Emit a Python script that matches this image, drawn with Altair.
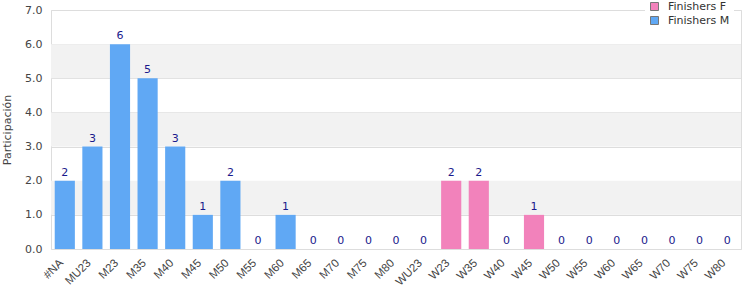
import altair as alt
import pandas as pd

categories = ["#NA", "MU23", "M23", "M35", "M40", "M45", "M50", "M55", "M60", "M65", "M70", "M75", "M80",
              "WU23", "W23", "W35", "W40", "W45", "W50", "W55", "W60", "W65", "W70", "W75", "W80"]
values = [2, 3, 6, 5, 3, 1, 2, 0, 1, 0, 0, 0, 0, 0, 2, 2, 0, 1, 0, 0, 0, 0, 0, 0, 0]
series = ["Finishers M"] * 13 + ["Finishers F"] * 12

y_ticks = [0, 1, 2, 3, 4, 5, 6, 7]
band_lo = [1, 3, 5]
band_hi = [2, 4, 6]

df = pd.DataFrame({"cat": categories, "val": values, "serie": series})
bands = pd.DataFrame({"lo": band_lo, "hi": band_hi})

xaxis = alt.Axis(labelAngle=-45, labelAlign="right", labelBaseline="middle",
                 labelColor="#444444", labelFontSize=11.5, labelFont="Liberation Sans",
                 ticks=False, domain=False, labelPadding=12, labelOffset=-3, labelOverlap=False)
xenc = alt.X("cat:N", sort=categories, title=None,
             scale=alt.Scale(paddingInner=0.27, paddingOuter=0.135), axis=xaxis)
yscale = alt.Scale(domain=[0, 7], nice=False)
yaxis = alt.Axis(format=".1f", values=y_ticks, gridColor="#dddddd",
                 domain=False, ticks=False, labelColor="#444444", labelFontSize=11,
                 labelFont="DejaVu Sans", titleFont="DejaVu Sans", titleFontSize=11,
                 titleFontWeight="normal", titleColor="#444444", labelPadding=9,
                 labelOverlap=False, labelBound=False, labelFlush=False,
                 titlePadding=12)

band_layer = alt.Chart(bands).mark_rect(color="#f2f2f2").encode(
    y=alt.Y("lo:Q", scale=yscale, axis=yaxis, title="Participación"), y2="hi:Q",
    x=alt.value(0), x2=alt.value(690))

bars = alt.Chart(df).mark_bar().encode(
    x=xenc,
    y=alt.Y("val:Q", scale=yscale, title="Participación", axis=yaxis),
    color=alt.Color("serie:N", scale=alt.Scale(domain=["Finishers F", "Finishers M"],
                                               range=["#f282bb", "#60a8f4"]),
                    legend=alt.Legend(title=None, orient="none", legendX=594, legendY=-13,
                                      symbolType="square", symbolSize=64, symbolStrokeColor="#777777",
                                      symbolStrokeWidth=1, labelFont="DejaVu Sans", labelFontSize=11,
                                      labelColor="#333333", fillColor="white", padding=4,
                                      rowPadding=1, labelOffset=8)))

texts = alt.Chart(df).mark_text(dy=-8, color="#1a1a8c", fontSize=11, font="DejaVu Sans").encode(
    x=alt.X("cat:N", sort=categories, axis=xaxis, title=None),
    y=alt.Y("val:Q", scale=yscale, axis=yaxis, title="Participación"), text="val:Q")

chart = alt.layer(band_layer, bars, texts).properties(
    width=690, height=239,
    autosize=alt.AutoSizeParams(type="none"),
    padding={"left": 51, "top": 10, "right": 9, "bottom": 51}
).configure_view(stroke="#dddddd", strokeWidth=1)

chart.save("out.html", embed_options={"renderer": "svg", "actions": False})
